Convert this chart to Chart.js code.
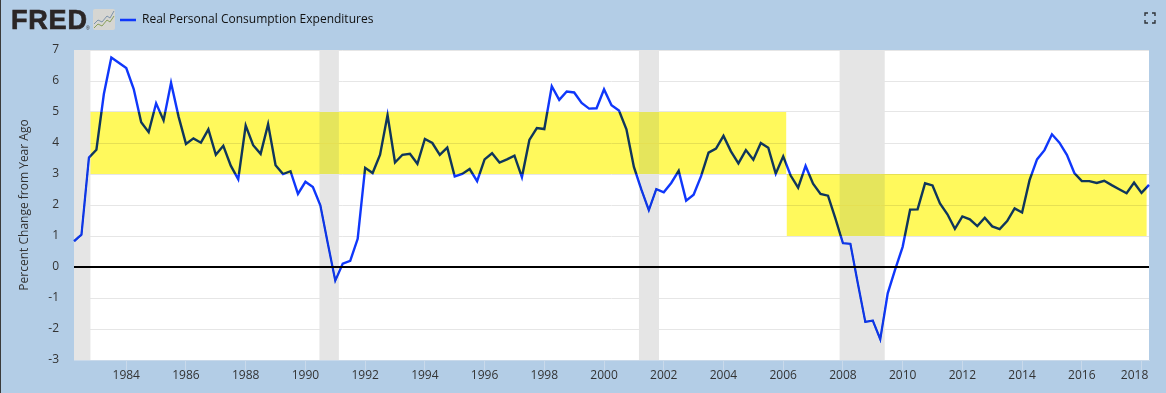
<!DOCTYPE html>
<html><head><meta charset="utf-8">
<script src="https://cdn.jsdelivr.net/npm/chart.js@4"></script>
<style>
html,body{margin:0;padding:0;background:#b3cde6;overflow:hidden}
#wrap{position:relative;width:1166px;height:393px}
canvas{position:absolute;left:0;top:0}
#edge{position:absolute;left:0;top:0;width:1px;height:393px;background:#3a3a3a}
#logo{position:absolute;left:11px;top:3px;font:900 27px/34px "Liberation Sans",Arial,sans-serif;color:#2b2626;letter-spacing:.8px;-webkit-text-stroke:.7px #2b2626}
#reg{position:absolute;left:86px;top:25px;font:5px/6px "Liberation Sans",Arial,sans-serif;color:#2b2626}
#icon{position:absolute;left:93px;top:9px}
#full{position:absolute;left:1144px;top:12px}
</style></head><body><div id="wrap">
<canvas id="c" width="1166" height="393"></canvas>
<div id="edge"></div>
<div id="logo">FRED</div><div id="reg">®</div>
<svg id="icon" width="22" height="21" viewBox="0 0 22 21"><rect x="0" y="0" width="22" height="21" rx="2" fill="#d6d6d2"/><polyline points="1,15 5,11 9,13 14,7 17,9 21,2" fill="none" stroke="#7d93ab" stroke-width="1"/><polyline points="1,19 5,15 9,17 14,11 17,13 21,7" fill="none" stroke="#8aa05a" stroke-width="1"/></svg>
<svg id="full" width="12" height="12" viewBox="0 0 12 12" fill="none" stroke="#2f3338" stroke-width="1.4"><path d="M1 4V1H4M8 1H11V4M11 8V11H8M4 11H1V8"/></svg>
</div>
<script>
const startYear = 1982, startQuarter = 2;
const values = [0.83,1.04,3.53,3.78,5.58,6.76,6.59,6.42,5.74,4.67,4.35,5.28,4.73,5.94,4.86,3.97,4.15,4.01,4.44,3.62,3.91,3.27,2.83,4.56,3.93,3.65,4.61,3.28,3.00,3.09,2.36,2.75,2.58,1.99,0.76,-0.44,0.11,0.20,0.91,3.20,3.03,3.62,4.90,3.37,3.62,3.65,3.33,4.13,4.00,3.62,3.85,2.92,3.00,3.16,2.77,3.47,3.67,3.37,3.47,3.59,2.90,4.10,4.48,4.45,5.83,5.39,5.66,5.63,5.29,5.11,5.12,5.73,5.22,5.05,4.44,3.23,2.50,1.83,2.51,2.41,2.71,3.10,2.14,2.33,2.93,3.69,3.82,4.23,3.73,3.34,3.77,3.46,4.00,3.85,3.01,3.57,2.95,2.56,3.26,2.69,2.36,2.30,1.56,0.77,0.75,-0.53,-1.77,-1.73,-2.33,-0.85,-0.08,0.65,1.85,1.86,2.70,2.63,2.05,1.70,1.23,1.63,1.54,1.32,1.59,1.31,1.22,1.48,1.89,1.76,2.80,3.47,3.77,4.28,4.01,3.62,3.03,2.77,2.77,2.71,2.78,2.64,2.51,2.38,2.72,2.39,2.65];
const xTicks = [1984,1986,1988,1990,1992,1994,1996,1998,2000,2002,2004,2006,2008,2010,2012,2014,2016,2018];
const yTicks = [-3,-2,-1,0,1,2,3,4,5,6,7];
const recessions = [[1982.25,1982.80],[1990.47,1991.12],[2001.17,2001.84],[2007.89,2009.40]];
const bands = [[1982.80,2006.10,3,5],[2006.12,2018.17,1,3]];
const seriesName = 'Real Personal Consumption Expenditures';
const yTitle = 'Percent Change from Year Ago';

const points = values.map((v,i)=>({x:startYear+(startQuarter-1+i)/4,y:v}));
const overlay = {
  id:'overlay',
  afterLayout(chart){
    const l=chart.legend; l.left=114; l.right=114+l.width; l.top=8;
  },
  afterDatasetsDraw(chart){
    const {ctx,chartArea:a,scales:{x,y}}=chart;
    ctx.save();
    ctx.beginPath();ctx.rect(a.left,a.top,a.width,a.height);ctx.clip();
    ctx.globalCompositeOperation='multiply';
    ctx.fillStyle='#fff95c';
    bands.forEach(b=>{const x0=x.getPixelForValue(b[0]),x1=x.getPixelForValue(b[1]),y0=y.getPixelForValue(b[3]),y1=y.getPixelForValue(b[2]);ctx.fillRect(x0,y0,x1-x0,y1-y0);});
    ctx.globalCompositeOperation='darken';
    ctx.fillStyle='#e5e5e5';
    recessions.forEach(r=>{const x0=x.getPixelForValue(r[0]),x1=x.getPixelForValue(r[1]);ctx.fillRect(x0,a.top,x1-x0,a.height);});
    ctx.restore();
    const z=y.getPixelForValue(0);
    ctx.save();ctx.strokeStyle='#000';ctx.lineWidth=2;ctx.beginPath();ctx.moveTo(a.left,z);ctx.lineTo(a.right,z);ctx.stroke();ctx.restore();
  },
  beforeDraw(chart){
    const {ctx,chartArea:a}=chart;
    ctx.save();ctx.fillStyle='#fff';ctx.fillRect(a.left,a.top,a.width,a.height);ctx.restore();
    const items=chart.scales.x.getLabelItems(a);
    if(items.length){const it=items[items.length-1];if(it.options&&it.options.translation){it.options.translation[0]-=7;}}
  }
};
new Chart(document.getElementById('c'),{
  type:'line',
  data:{datasets:[{label:seriesName,data:points,borderColor:'#0f37fb',backgroundColor:'#0f37fb',borderWidth:2.4,pointRadius:0,tension:0,clip:false}]},
  options:{
    responsive:false,animation:false,
    layout:{padding:{top:22,right:17,bottom:0,left:0}},
    plugins:{
      tooltip:{enabled:false},
      legend:{display:true,position:'top',align:'start',
        labels:{boxWidth:16,boxHeight:0,padding:6,color:'#111',font:{family:'"Open Sans"',size:12}}}
    },
    scales:{
      x:{type:'linear',min:points[0].x,max:points[points.length-1].x,
        afterBuildTicks(s){s.ticks=xTicks.map(v=>({value:v}));},
        afterFit(s){s.height=33;},
        border:{display:true,color:'#c9d9ea'},
        grid:{drawOnChartArea:false,drawTicks:true,tickLength:10,tickColor:'#c9d9ea'},
        ticks:{autoSkip:false,maxRotation:0,color:'#333',padding:-2,font:{family:'"Open Sans"',size:12},callback:v=>String(v)}},
      y:{min:-3,max:7,
        afterBuildTicks(s){s.ticks=yTicks.map(v=>({value:v}));},
        afterFit(s){s.width=74;},
        border:{display:false},
        grid:{color:'#e6e6e6',lineWidth:1,drawTicks:false},
        title:{display:true,text:yTitle,color:'#333',font:{family:'"Open Sans"',size:12},padding:{top:17,bottom:0}},
        ticks:{color:'#333',padding:15,font:{family:'"Open Sans"',size:12},callback:v=>String(v)}}
    }
  },
  plugins:[overlay]
});
</script></body></html>
